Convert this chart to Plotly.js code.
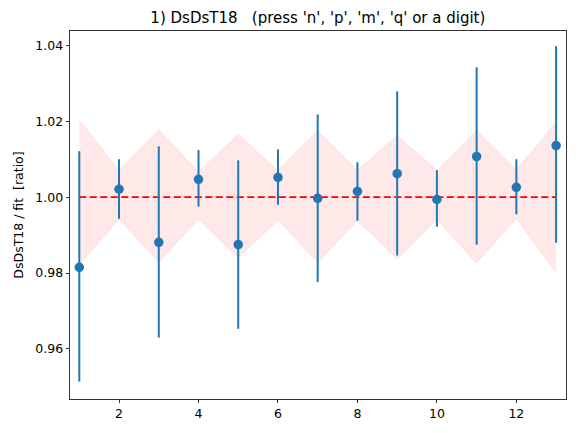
<!DOCTYPE html>
<html>
<head>
<meta charset="utf-8">
<script src="https://cdn.plot.ly/plotly-3.0.1.min.js"></script>
<style>html,body{margin:0;padding:0;background:#fff;}#chart{width:579px;height:433px;}</style>
</head>
<body>
<div id="chart"></div>
<script>
var xs = [1, 2, 3, 4, 5, 6, 7, 8, 9, 10, 11, 12, 13];
var ratio = [0.9815, 1.0021, 0.9881, 1.0047, 0.9875, 1.0052, 0.9997, 1.0015, 1.0062, 0.9994, 1.0107, 1.0026, 1.0136];
var errUp = [0.0306, 0.0079, 0.0253, 0.0077, 0.0222, 0.0074, 0.0221, 0.0077, 0.0217, 0.0077, 0.0235, 0.0074, 0.0262];
var errDown = [0.0301, 0.0078, 0.0251, 0.0072, 0.0222, 0.0072, 0.0221, 0.0077, 0.0216, 0.0072, 0.0232, 0.0071, 0.0256];
var bandUpper = [1.0203, 1.0071, 1.0178, 1.0067, 1.0165, 1.0071, 1.0176, 1.0071, 1.0163, 1.0070, 1.0176, 1.0072, 1.0198];
var bandLower = [0.9821, 0.9942, 0.9828, 0.9942, 0.9840, 0.9939, 0.9828, 0.9938, 0.9837, 0.9942, 0.9826, 0.9944, 0.9801];
var fitX = [1, 13];
var fitY = [1.0, 1.0];
var yTicks = [0.96, 0.98, 1.00, 1.02, 1.04];
var yTickText = ["0.96", "0.98", "1.00", "1.02", "1.04"];
var xTicks = [2, 4, 6, 8, 10, 12];

var font = "DejaVu Sans, sans-serif";
var traces = [
  {x: xs, y: bandUpper, mode: "lines", line: {color: "rgba(255,0,0,0.08)", width: 1}, hoverinfo: "skip", showlegend: false},
  {x: xs, y: bandLower, mode: "lines", fill: "tonexty", fillcolor: "rgba(255,0,0,0.09)", line: {color: "rgba(255,0,0,0.08)", width: 1}, hoverinfo: "skip", showlegend: false},
  {x: fitX, y: fitY, mode: "lines", line: {color: "#ff0000", width: 1.8, dash: "7px,3.5px"}, showlegend: false},
  {x: xs, y: ratio, mode: "markers", marker: {color: "#1f77b4", size: 9.5},
   error_y: {type: "data", symmetric: false, array: errUp, arrayminus: errDown, color: "#1f77b4", thickness: 2, width: 0},
   showlegend: false}
];
var layout = {
  width: 579, height: 433,
  margin: {l: 70, r: 12.5, t: 30.7, b: 34},
  paper_bgcolor: "#fff", plot_bgcolor: "#fff",
  title: {text: "1) DsDsT18\u00a0\u00a0 (press 'n', 'p', 'm', 'q' or a digit)", font: {family: font, size: 15, color: "#000"}, x: 0.549, xanchor: "center", y: 0.96, yanchor: "middle"},
  xaxis: {range: [0.766, 13.249], tickvals: xTicks, ticks: "outside", ticklen: 3.5, tickwidth: 0.8, tickcolor: "#000",
          showgrid: false, zeroline: false, showline: true, linecolor: "#000", linewidth: 0.8, mirror: true,
          tickfont: {family: font, size: 12.5, color: "#000"}},
  yaxis: {range: [0.9468, 1.0438], tickvals: yTicks, ticktext: yTickText, ticks: "outside", ticklen: 3.5, tickwidth: 0.8, tickcolor: "#000",
          showgrid: false, zeroline: false, showline: true, linecolor: "#000", linewidth: 0.8, mirror: true,
          tickfont: {family: font, size: 12.5, color: "#000"},
          title: {text: "DsDsT18 / fit\u00a0 [ratio]", font: {family: font, size: 12.5, color: "#000"}, standoff: 8}}
};
Plotly.newPlot("chart", traces, layout, {displayModeBar: false, staticPlot: true});
</script>
</body>
</html>
